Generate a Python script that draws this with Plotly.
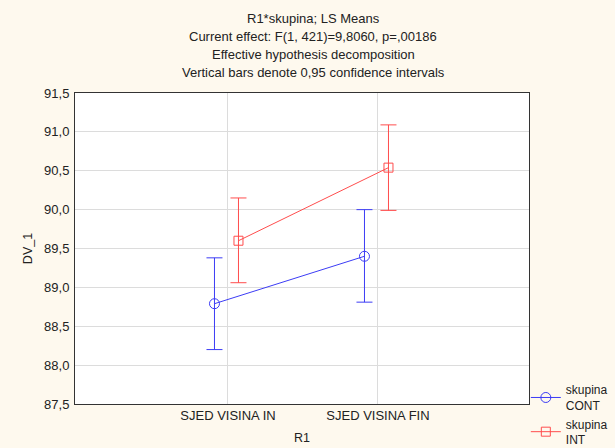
import plotly.graph_objects as go

categories = ["SJED VISINA IN", "SJED VISINA FIN"]
cont_mean = [88.79, 89.40]
cont_lo = [88.20, 88.81]
cont_hi = [89.38, 90.00]
int_mean = [89.60, 90.54]
int_lo = [89.06, 89.99]
int_hi = [90.15, 91.09]
y_ticks = [87.5, 88.0, 88.5, 89.0, 89.5, 90.0, 90.5, 91.0, 91.5]

BLUE = "#3c3cf5"
RED = "#ff4d4d"
FONT = "Liberation Sans, Arial, sans-serif"

idx = list(range(len(categories)))

fig = go.Figure()
fig.add_trace(go.Scatter(
    x=[i - 0.09 for i in idx], y=cont_mean,
    mode="lines+markers", name="skupina<br>CONT",
    line=dict(color=BLUE, width=1),
    marker=dict(symbol="circle-open", size=10, color=BLUE, line=dict(width=1)),
    error_y=dict(type="data", symmetric=False,
                 array=[h - m for h, m in zip(cont_hi, cont_mean)],
                 arrayminus=[m - l for m, l in zip(cont_mean, cont_lo)],
                 color=BLUE, thickness=1, width=8),
))
fig.add_trace(go.Scatter(
    x=[i + 0.07 for i in idx], y=int_mean,
    mode="lines+markers", name="skupina<br>INT",
    line=dict(color=RED, width=1),
    marker=dict(symbol="square-open", size=9, color=RED, line=dict(width=1)),
    error_y=dict(type="data", symmetric=False,
                 array=[h - m for h, m in zip(int_hi, int_mean)],
                 arrayminus=[m - l for m, l in zip(int_mean, int_lo)],
                 color=RED, thickness=1, width=8),
))

title_lines = ["R1*skupina; LS Means",
               "Current effect: F(1, 421)=9,8060, p=,00186",
               "Effective hypothesis decomposition",
               "Vertical bars denote 0,95 confidence intervals"]
for k, t in enumerate(title_lines):
    fig.add_annotation(text=t, xref="paper", yref="paper", x=0.5, xshift=11,
                       y=1, yshift=75 - k * 18, yanchor="middle",
                       showarrow=False, font=dict(size=13, color="#222"))

fig.update_layout(
    width=615, height=448,
    margin=dict(l=75, r=86, t=93, b=44, autoexpand=False),
    paper_bgcolor="#fef9ee", plot_bgcolor="white",
    font=dict(family=FONT, size=13, color="#222"),
    separators=", ",
    showlegend=True,
    legend=dict(x=0.993, xanchor="left", y=-0.162, yanchor="bottom",
                bgcolor="rgba(0,0,0,0)", font=dict(size=12, color="#222"),
                tracegroupgap=0, itemwidth=30),
    xaxis=dict(range=[-1.02, 2.007], tickvals=idx, ticktext=categories,
               showgrid=True, gridcolor="#dcdcdc", gridwidth=1,
               showline=True, linecolor="#333", linewidth=1, mirror=True,
               zeroline=False, ticks="", automargin=False,
               ticklabelstandoff=-1,
               title=dict(text="R1", standoff=11, font=dict(size=12.5))),
    yaxis=dict(range=[87.5, 91.5], tickvals=y_ticks, tickformat=".1f",
               showgrid=True, gridcolor="#dcdcdc", gridwidth=1,
               showline=True, linecolor="#333", linewidth=1, mirror=True,
               zeroline=False, ticks="", automargin=False,
               ticklabelstandoff=2,
               title=dict(text="DV_1", standoff=8, font=dict(size=12.5))),
)

fig.write_html("out.html",
               config={"displayModeBar": False},
               post_script="document.body.style.margin='0';")
